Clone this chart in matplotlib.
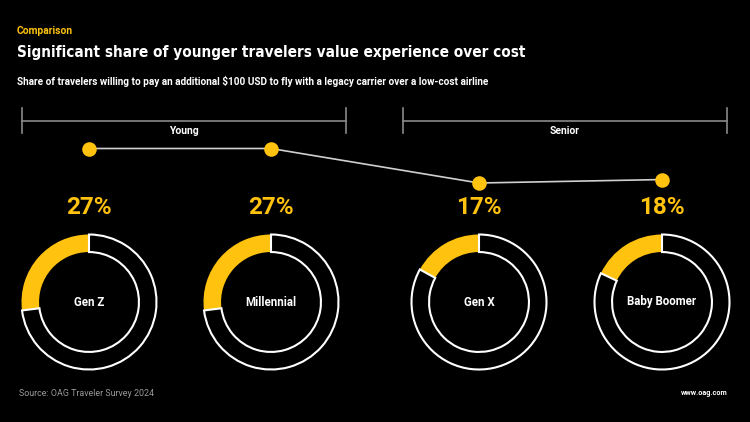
import matplotlib.pyplot as plt
from matplotlib import font_manager as fm

# data
generations = ["Gen Z", "Millennial", "Gen X", "Baby Boomer"]
share_pct = [27, 27, 17, 18]
groups = ["Young", "Senior"]

YELLOW = "#FFC20E"
BG = "black"

# layout in pixels (750x422 canvas)
W, H = 750, 422
centers_x = [89, 271, 479, 662]
donut_y = 302
r_out = 67.5
group_spans = [(22, 346), (403, 727)]

# look for a condensed bold face for the headline, otherwise shrink Roboto
cond = [f for f in fm.fontManager.ttflist
        if ("condensed" in str(f.stretch).lower() or "Narrow" in f.name or "Condensed" in f.name)
        and str(f.weight) in ("bold", "700")]
if cond:
    cond.sort(key=lambda f: (f.name != "DejaVu Sans", f.name))
    title_font = fm.FontProperties(fname=cond[0].fname, size=11)
else:
    title_font = fm.FontProperties(family="Roboto", weight="bold", size=10.5)

fig = plt.figure(figsize=(7.5, 4.22), dpi=100, facecolor=BG)

# overlay axes in pixel coordinates for text and brackets
ax = fig.add_axes([0, 0, 1, 1])
ax.set_xlim(0, W)
ax.set_ylim(H, 0)
ax.axis("off")

ax.text(17, 31, "Comparison", color=YELLOW, fontsize=7.4, fontweight="bold",
        family="Roboto", va="center")
ax.text(17, 52, "Significant share of younger travelers value experience over cost",
        color="white", fontproperties=title_font, va="center")
ax.text(17, 81, "Share of travelers willing to pay an additional $100 USD to fly with a legacy carrier over a low-cost airline",
        color="white", fontsize=7.2, fontweight="bold", family="Roboto", va="center")

# group brackets
for (x0, x1), name in zip(group_spans, groups):
    ax.plot([x0, x1], [121, 121], color="#8a8a8a", lw=1.2)
    ax.plot([x0, x0], [108, 133], color="#8a8a8a", lw=1.2)
    ax.plot([x1, x1], [108, 133], color="#8a8a8a", lw=1.2)
    ax.text((x0 + x1) / 2, 131, name, color="white", fontsize=7.5, fontweight="bold",
            family="Roboto", ha="center", va="center")

# percentage labels
for cx, v in zip(centers_x, share_pct):
    ax.text(cx, 208, f"{v}%", color=YELLOW, fontsize=17.5, fontweight="bold",
            family="Roboto", ha="center", va="center")

ax.text(19, 393, "Source: OAG Traveler Survey 2024", color="#9a9a9a", fontsize=6.4,
        family="Roboto", va="center")
ax.text(728, 393, "www.oag.com", color="white", fontsize=5.2, fontweight="bold",
        family="Roboto", ha="right", va="center")

# line chart of shares
y_lo, y_hi = 15, 29
px_per_unit = 3.45
top_px = 148.5 - (y_hi - 27) * px_per_unit
bot_px = 148.5 + (27 - y_lo) * px_per_unit
lax = fig.add_axes([0, (H - bot_px) / H, 1, (bot_px - top_px) / H])
lax.set_xlim(0, W)
lax.set_ylim(y_lo, y_hi)
lax.axis("off")
lax.plot(centers_x, share_pct, color="#d0d0d0", lw=1.2, zorder=1)
lax.scatter(centers_x, share_pct, s=110, color=YELLOW, zorder=2, linewidths=0)

# donuts
size = 2 * r_out + 4
for cx, v, name in zip(centers_x, share_pct, generations):
    dax = fig.add_axes([(cx - size / 2) / W, (H - donut_y - size / 2) / H, size / W, size / H])
    dax.set_facecolor(BG)
    wedges, _ = dax.pie([v, 100 - v], startangle=90, counterclock=True,
                        colors=[YELLOW, BG], radius=1,
                        wedgeprops=dict(width=0.26, linewidth=0))
    wedges[1].set_edgecolor("white")
    wedges[1].set_linewidth(1.5)
    lim = size / (2 * r_out)
    dax.set_xlim(-lim, lim)
    dax.set_ylim(-lim, lim)
    dax.set_aspect("equal")
    dax.axis("off")
    dax.text(0, 0, name, color="white", fontsize=8.3, fontweight="bold",
             family="Roboto", ha="center", va="center")

fig.savefig("out.png", dpi=100, facecolor=BG)
